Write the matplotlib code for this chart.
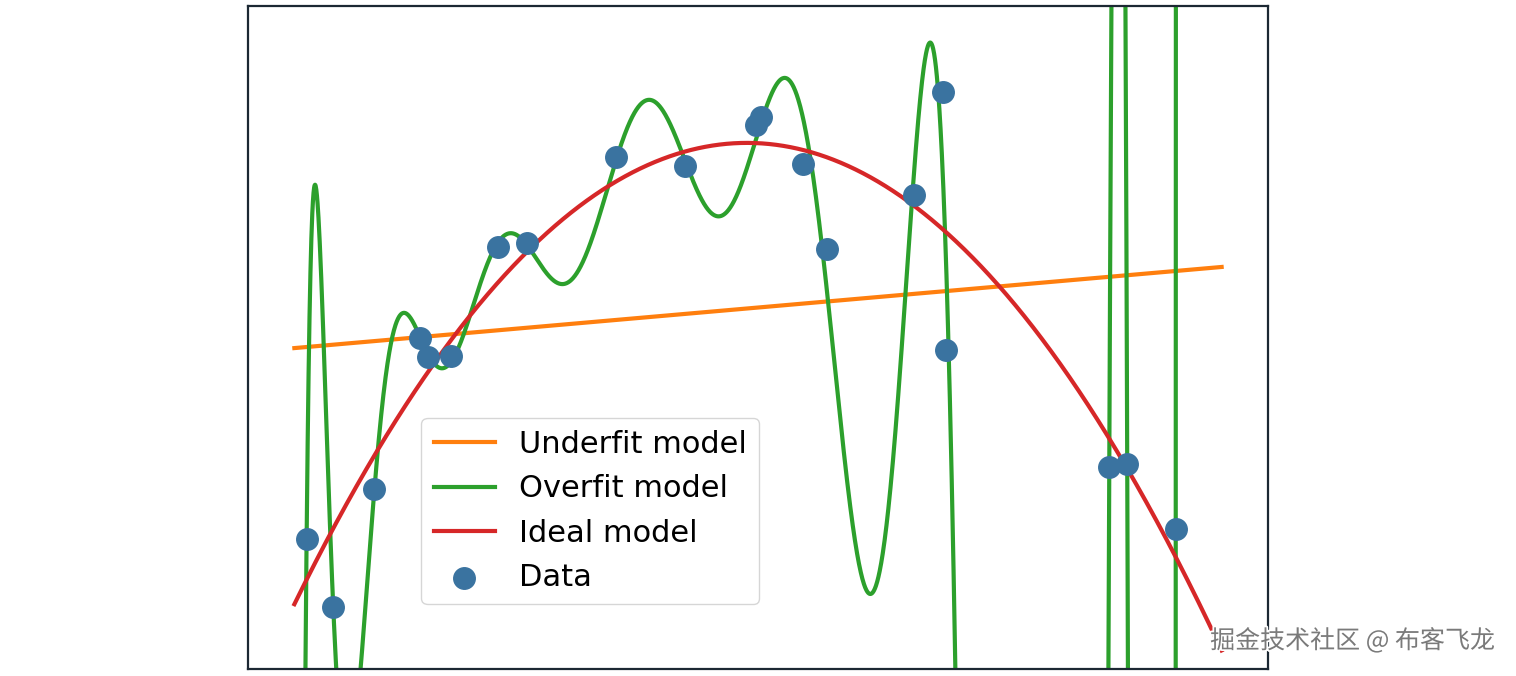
import numpy as np
import matplotlib.pyplot as plt
import matplotlib.patheffects as pe
from numpy.polynomial import Polynomial

plt.rcParams['font.family'] = ['DejaVu Sans', 'Noto Sans CJK SC']

# data points (x in 0..1, y in 0..1)
x_data = [0.0132, 0.0419, 0.0863, 0.1355, 0.1444, 0.1685, 0.2201, 0.2505,
          0.3473, 0.4208, 0.4978, 0.5032, 0.5481, 0.5739, 0.6681, 0.6997,
          0.7032, 0.8788, 0.8982, 0.9505]
y_data = [0.1956, 0.0940, 0.2715, 0.4988, 0.4701, 0.4721, 0.6370, 0.6430,
          0.7727, 0.7591, 0.8205, 0.8326, 0.7612, 0.6330, 0.7149, 0.8698,
          0.4811, 0.3042, 0.3092, 0.2107]
labels = ['Underfit model', 'Overfit model', 'Ideal model', 'Data']
degrees = [1, 15, 2]

x = np.array(x_data)
y = np.array(y_data)
xs = np.linspace(0, 1, 3000)

underfit = Polynomial.fit(x, y, degrees[0])
overfit = Polynomial.fit(x, y, degrees[1])
ideal = Polynomial.fit(x, y, degrees[2])

fig = plt.figure(figsize=(15.16, 6.76), dpi=100)
ax = fig.add_axes([248 / 1516, 7 / 676, 1020 / 1516, 663 / 676])

ax.plot(xs, underfit(xs), color='#ff7f0e', lw=3, label=labels[0])
ax.plot(xs, overfit(xs), color='#2ca02c', lw=3, label=labels[1])
ax.plot(xs, ideal(xs), color='#d62728', lw=3, label=labels[2])
ax.scatter(x, y, s=240, color='#3a73a0', zorder=3, label=labels[3])

ax.set_ylim(0, 1)
ax.set_xticks([])
ax.set_yticks([])
for sp in ax.spines.values():
    sp.set_linewidth(1.6)
    sp.set_color('#1c2833')

ax.legend(loc='lower left', bbox_to_anchor=(0.17, 0.098), borderaxespad=0,
          fontsize=22)

# watermark
fig.text(1495 / 1516, 35 / 676, '掘金技术社区 @ 布客飞龙', ha='right', va='center',
         fontsize=18, color='#7a7a7a', family=['Noto Sans CJK SC', 'DejaVu Sans'],
         path_effects=[pe.withStroke(linewidth=2.5, foreground='white')])

fig.savefig('out.png', dpi=100)
